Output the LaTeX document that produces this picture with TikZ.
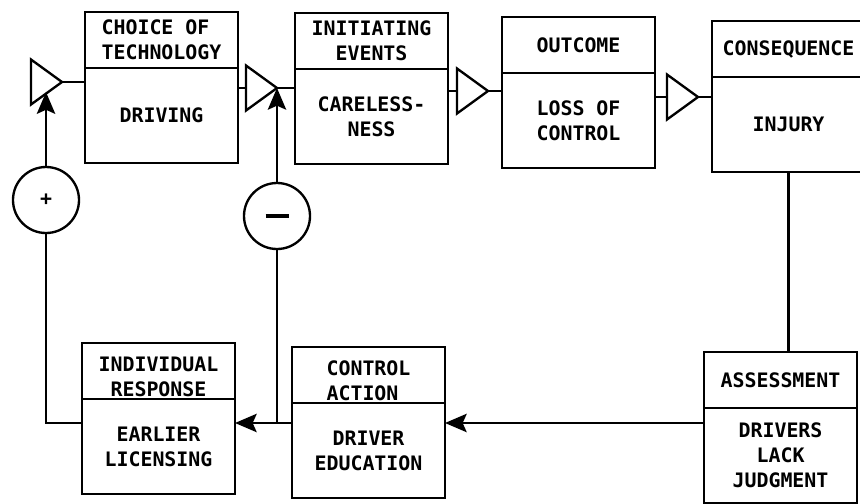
\documentclass[tikz,border=0pt]{standalone}
\usepackage{fontspec}
\setmainfont{DejaVu Sans Mono}
\usetikzlibrary{positioning,calc,arrows.meta,shapes.geometric}
\tikzset{
  stagehead/.style={draw, line width=2pt, outer sep=0pt, inner sep=0pt,
    minimum width=45.9mm, minimum height=16.8mm, align=center, anchor=north west},
  stagebody/.style={draw, line width=2pt, outer sep=0pt, inner sep=0pt,
    minimum width=45.9mm, minimum height=28.5mm, align=center},
  gate/.style={draw, line width=2pt, isosceles triangle, isosceles triangle stretches,
    minimum width=13.5mm, minimum height=9.3mm, inner sep=0pt, outer sep=0pt, anchor=apex},
  signnode/.style={draw, circle, line width=2pt, minimum size=19.8mm, inner sep=0pt, outer sep=0pt},
  link/.style={line width=2pt},
  feed/.style={line width=2pt, -{Stealth[length=6.5mm,width=5.5mm,inset=1.2mm]}},
}
\newcommand{\lowtop}{\rule{0pt}{8mm}}
\begin{document}
\begin{tikzpicture}
    [x=0.3mm,y=-0.3mm,font=\fontsize{17}{21.5}\selectfont\bfseries]
    \clip (0,0) rectangle (860,503);
    % forward path
    \node[stagehead, align=left] (techh) at (85,12) {CHOICE OF\\TECHNOLOGY};
    \node[stagebody, below=0pt of techh] (techb) {DRIVING};
    \node[stagehead] (evh) at (295,13) {INITIATING\\EVENTS};
    \node[stagebody, below=0pt of evh] (evb) {CARELESS-\\NESS};
    \node[stagehead] (outh) at (502,17) {OUTCOME};
    \node[stagebody, below=0pt of outh] (outb) {LOSS OF\\CONTROL};
    \node[stagehead] (consh) at (712,21) {CONSEQUENCE};
    \node[stagebody, below=0pt of consh] (consb) {INJURY};
    \node[gate] (g1) at (62,82) {};
    \node[gate] (g2) at (277,88) {};
    \node[gate] (g3) at (488,91) {};
    \node[gate] (g4) at (698,97) {};
    \draw[link] (g1.apex) -- (g1.apex -| techb.west);
    \draw[link] (techb.east |- g2.lower side) -- (g2.lower side);
    \draw[link] (g2.apex) -- (g2.apex -| evb.west);
    \draw[link] (evb.east |- g3.lower side) -- (g3.lower side);
    \draw[link] (g3.apex) -- (g3.apex -| outb.west);
    \draw[link] (outb.east |- g4.lower side) -- (g4.lower side);
    \draw[link] (g4.apex) -- (g4.apex -| consb.west);
    % feedback path
    \node[stagehead] (assh) at (704,352) {ASSESSMENT};
    \node[stagebody, below=0pt of assh] (assb) {DRIVERS\\LACK\\JUDGMENT};
    \node[stagehead, align=left] (ctlh) at (292,347) {\lowtop CONTROL\\ACTION};
    \node[stagebody, below=0pt of ctlh] (ctlb) {DRIVER\\EDUCATION};
    \node[stagehead] (indh) at (82,343) {\lowtop INDIVIDUAL\\RESPONSE};
    \node[stagebody, below=0pt of indh] (indb) {EARLIER\\LICENSING};
    \node[signnode] (plus) at (46,200) {+};
    \node[signnode] (minus) at (277,216) {\rule[-0.6mm]{6.9mm}{1.2mm}};
    \coordinate (fb) at (0,423);
    \coordinate (g1in) at ($(g1.apex)!0.45!(g1.right corner)$);
    \draw[link] (consb.south) -- (consb.south |- assh.north);
    \draw[feed] (assb.west |- fb) -- (ctlb.east |- fb);
    \draw[feed] (ctlb.west |- fb) -- (indb.east |- fb);
    \draw[link] (minus.south) -- (minus.south |- fb);
    \draw[link] (indb.west |- fb) -| (plus.south);
    \draw[feed] (plus.north) -- (plus.north |- g1in);
    \draw[feed] (minus.north) -- (minus.north |- g2.apex);
\end{tikzpicture}
\end{document}
